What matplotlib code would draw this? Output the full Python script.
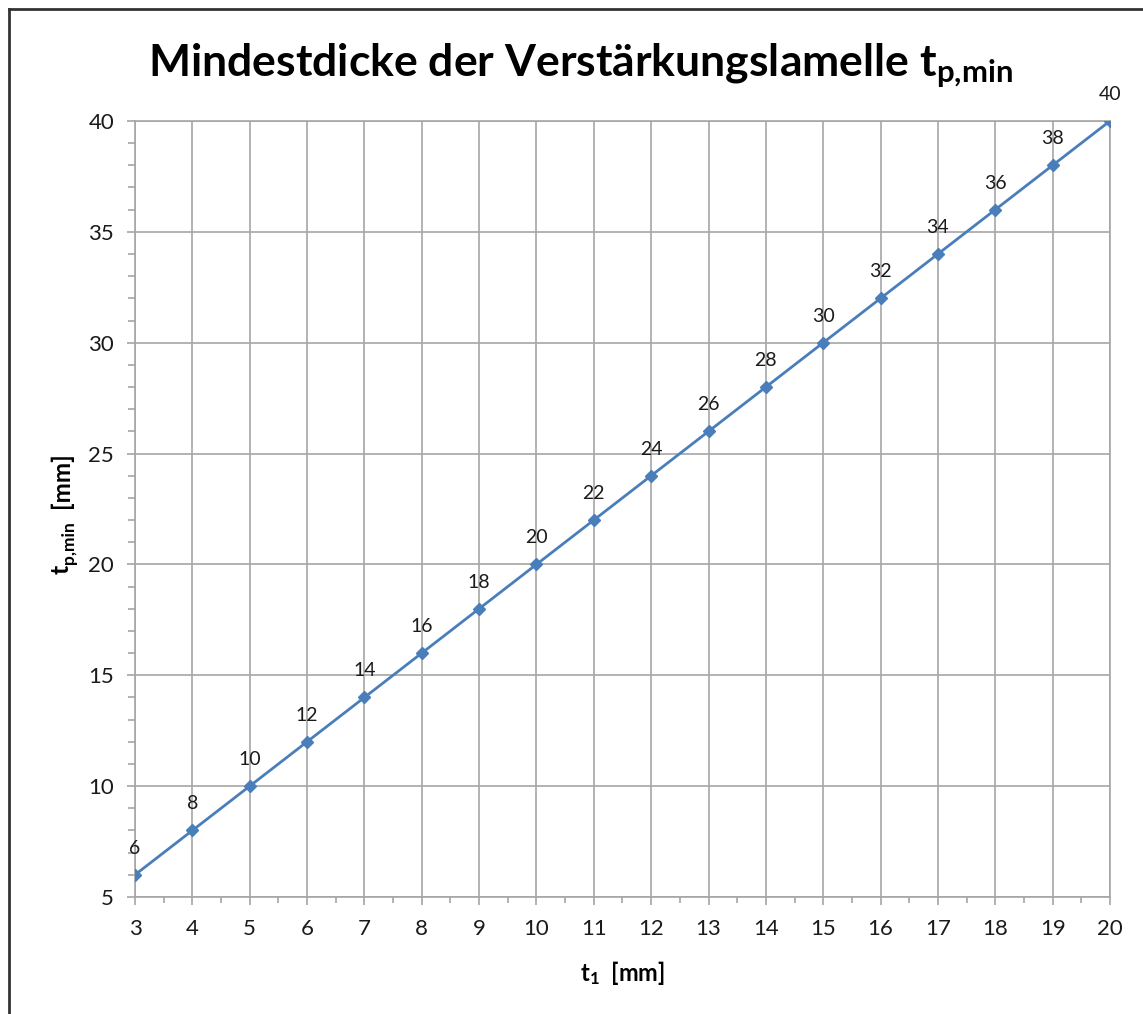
import numpy as np
import matplotlib
matplotlib.use("Agg")
import matplotlib.pyplot as plt
from matplotlib.ticker import MultipleLocator
from matplotlib.lines import Line2D

plt.rcParams['font.family'] = ['Lato', 'DejaVu Sans']
plt.rcParams['mathtext.fontset'] = 'custom'
plt.rcParams['mathtext.rm'] = 'Lato'
plt.rcParams['mathtext.it'] = 'Lato:italic'
plt.rcParams['mathtext.bf'] = 'Lato:bold'

# Daten
t1 = [3, 4, 5, 6, 7, 8, 9, 10, 11, 12, 13, 14, 15, 16, 17, 18, 19, 20]
tp_min = [6, 8, 10, 12, 14, 16, 18, 20, 22, 24, 26, 28, 30, 32, 34, 36, 38, 40]

LINE_COL = "#4a7ebb"
GRID_COL = "#a6a6a6"
W, H = 1143, 1014


def px(x, y):
    return x / W, 1 - y / H


fig = plt.figure(figsize=(W / 100, H / 100), dpi=100)
ax = fig.add_axes([0.1181, 0.1154, 0.853, 0.7653])

ax.plot(t1, tp_min, color=LINE_COL, lw=2, marker="D", ms=6.5, zorder=3)
for x, y in zip(t1, tp_min):
    ax.annotate(f"{y}", (x, y), xytext=(0, 13), textcoords="offset points",
                ha="center", va="bottom", fontsize=14, color="#1a1a1a")

ax.set_xlim(3, 20)
ax.set_ylim(5, 40)
ax.xaxis.set_major_locator(MultipleLocator(1))
ax.xaxis.set_minor_locator(MultipleLocator(0.5))
ax.yaxis.set_major_locator(MultipleLocator(5))
ax.yaxis.set_minor_locator(MultipleLocator(1))
ax.grid(True, which="major", color=GRID_COL, lw=1.2)
ax.set_axisbelow(True)
for s in ax.spines.values():
    s.set_color(GRID_COL)
    s.set_linewidth(1.2)
ax.tick_params(which="major", direction="out", length=6, width=1.2, color=GRID_COL,
               labelsize=16, labelcolor="#1a1a1a")
ax.tick_params(which="minor", direction="out", length=4, width=1.2, color=GRID_COL)
ax.tick_params(axis="x", which="major", pad=10)
ax.tick_params(axis="y", which="major", pad=9)
ax.tick_params(axis="y", which="minor", length=5)

ax.set_xlabel(r"$\mathbf{t_1}$  [mm]", fontsize=17, fontweight="bold", labelpad=14)

# y-Beschriftung: t mit grossem Index, von Hand gesetzt
r = fig.canvas.get_renderer()
kw = dict(rotation=90, rotation_mode="anchor", ha="left", va="baseline", fontweight="bold")
y_pos = 574
lab_t = fig.text(*px(69, y_pos), "t", fontsize=18, **kw)
y_pos -= lab_t.get_window_extent(r).height + 1
lab_s = fig.text(*px(74, y_pos), "p,min", fontsize=12.5, **kw)
y_pos -= lab_s.get_window_extent(r).height + 13
fig.text(*px(69, y_pos), "[mm]", fontsize=17.5, **kw)

fig.text(0.508, 0.935, r"Mindestdicke der Verstärkungslamelle $\mathbf{t_{p{,}min}}$",
         ha="center", va="center", fontsize=32, fontweight="bold")

# Rahmen (oben und links)
x0 = 9 / W
y0 = 1 - 9 / H
fig.add_artist(Line2D([x0, 1.0], [y0, y0], transform=fig.transFigure, color="#333333", lw=2))
fig.add_artist(Line2D([x0, x0], [0.0, y0], transform=fig.transFigure, color="#333333", lw=2))

fig.savefig("out.png", dpi=100)
